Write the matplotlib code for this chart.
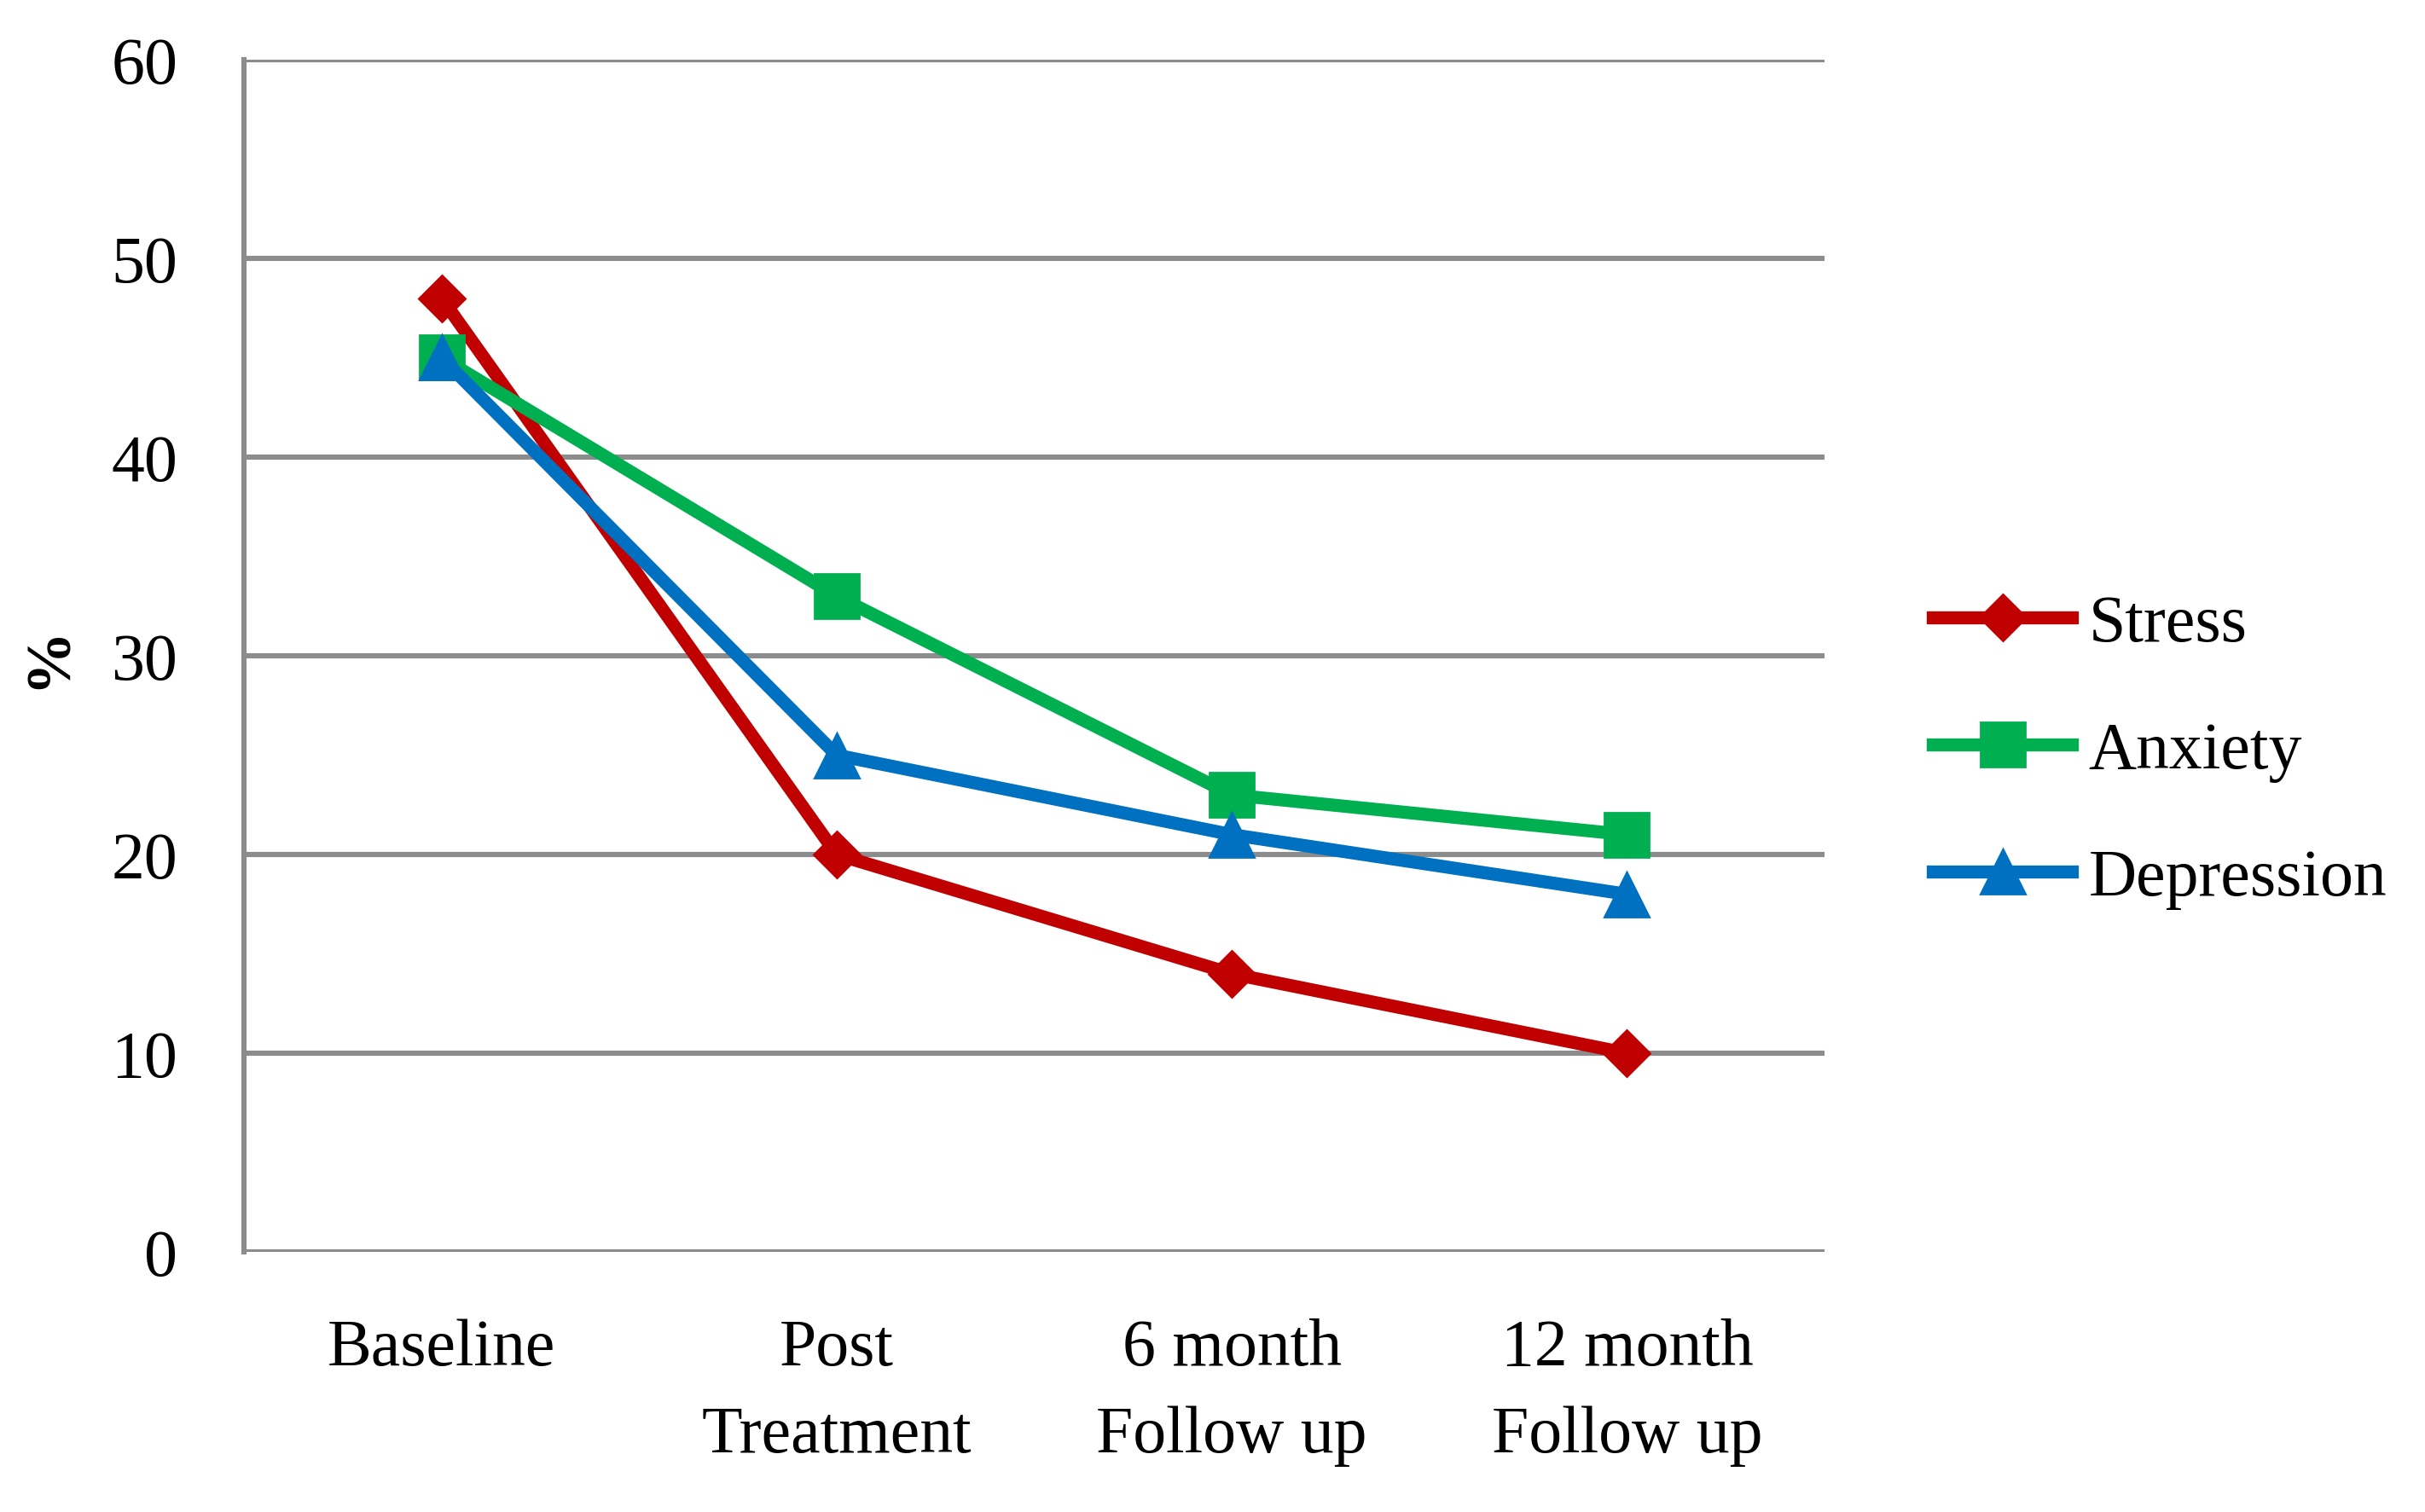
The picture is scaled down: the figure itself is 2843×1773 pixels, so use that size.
import matplotlib
matplotlib.use("Agg")
import matplotlib.pyplot as plt

categories = ["Baseline", "Post\nTreatment", "6 month\nFollow up", "12 month\nFollow up"]
stress = [48, 20, 14, 10]
anxiety = [45, 33, 23, 21]
depression = [45, 25, 21, 18]
y_ticks = [0, 10, 20, 30, 40, 50, 60]

plt.rcParams['font.family'] = ['Liberation Serif', 'DejaVu Serif']

fig = plt.figure(figsize=(14.215, 8.87), dpi=200)
ax = fig.add_axes([0.1006, 0.1719, 0.6518, 0.7881])

x = list(range(len(categories)))
ax.plot(x, stress, color='#C00000', lw=5.5, marker='D', markersize=14, label='Stress')
ax.plot(x, anxiety, color='#00B050', lw=5.5, marker='s', markersize=19, label='Anxiety')
ax.plot(x, depression, color='#0070C0', lw=5.5, marker='^', markersize=19, label='Depression')

ax.set_xlim(-0.5, 3.5)
ax.set_ylim(0, 60)
ax.set_yticks(y_ticks)
ax.set_xticks(x)
ax.set_xticklabels(categories, linespacing=1.55)
ax.tick_params(axis='both', length=0, labelsize=28)
ax.tick_params(axis='y', pad=28)
ax.tick_params(axis='x', pad=28)

ax.yaxis.grid(True, color='#8C8C8C', lw=2.2)
ax.set_axisbelow(True)
for s in ['top', 'right', 'bottom']:
    ax.spines[s].set_visible(False)
ax.spines['left'].set_color('#8C8C8C')
ax.spines['left'].set_linewidth(2.2)

ax.set_ylabel('%', fontsize=27, fontweight='bold', labelpad=14)

ax.legend(loc='center left', bbox_to_anchor=(0.797, 0.5026), bbox_transform=fig.transFigure,
          frameon=False, fontsize=28, handlelength=2.1, handletextpad=0.25,
          labelspacing=1.0, borderpad=0, borderaxespad=0)

fig.savefig('out.png', dpi=200)
